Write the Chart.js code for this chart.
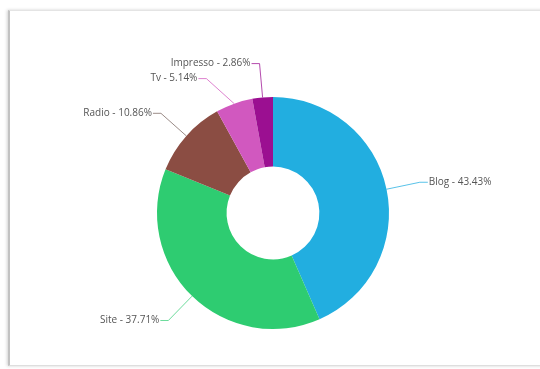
<!DOCTYPE html>
<html>
<head>
<meta charset="utf-8">
<script src="https://cdn.jsdelivr.net/npm/chart.js@4/dist/chart.umd.min.js"></script>
<style>
  html, body { margin: 0; padding: 0; background: #fff; width: 540px; height: 369px; overflow: hidden; }
  #frame { position: absolute; left: 8px; top: 10px; width: 540px; height: 356px;
    border-top: 1px solid #e4e4e4; border-left: 2px solid #c2c2c2; border-bottom: 1px solid #dedede;
    box-shadow: -1px 0 3px rgba(0,0,0,0.18); box-sizing: border-box; }
  #wrap { position: absolute; left: 0; top: 0; width: 540px; height: 369px; }
</style>
</head>
<body>
<div id="frame"></div>
<div id="wrap"><canvas id="c" width="540" height="369"></canvas></div>
<script>
const categories = ["Blog", "Site", "Radio", "Tv", "Impresso"];
const values = [76, 66, 19, 9, 5];
const percentLabels = ["43.43%", "37.71%", "10.86%", "5.14%", "2.86%"];
const colors = ["#22aee0", "#2ecc71", "#8b4d43", "#d158bf", "#9b0f91"];
const lineColors = ["rgba(34,174,224,0.75)", "rgba(46,204,113,0.7)", "rgba(120,100,95,0.75)", "rgba(209,88,191,0.75)", "rgba(155,15,145,0.75)"];

const leaderPlugin = {
  id: 'leaders',
  afterDatasetsDraw(chart) {
    const ctx = chart.ctx;
    const meta = chart.getDatasetMeta(0);
    const items = [];
    meta.data.forEach((arc, i) => {
      const p = arc.getProps(['x','y','startAngle','endAngle','outerRadius'], true);
      const mid = (p.startAngle + p.endAngle) / 2;
      const R = p.outerRadius;
      const er = R + 34;
      items.push({
        i, cx: p.x, cy: p.y, er,
        ax: p.x + Math.cos(mid) * R, ay: p.y + Math.sin(mid) * R,
        ex: p.x + Math.cos(mid) * er, ey: p.y + Math.sin(mid) * er,
        left: Math.cos(mid) < 0
      });
    });
    // de-overlap on left side
    const leftItems = items.filter(o => o.left).sort((a, b) => a.ey - b.ey);
    for (let k = 1; k < leftItems.length; k++) {
      const prev = leftItems[k-1], cur = leftItems[k];
      if (cur.ey - prev.ey < 15) {
        cur.ey = prev.ey + 15;
        const dy = cur.ey - cur.cy;
        cur.ex = cur.cx - Math.sqrt(Math.max(0, cur.er*cur.er - dy*dy));
      }
    }
    ctx.save();
    ctx.font = '10px "Open Sans", sans-serif';
    ctx.textBaseline = 'middle';
    items.forEach(o => {
      const hx = o.left ? o.ex - 8 : o.ex + 8;
      ctx.strokeStyle = lineColors[o.i];
      ctx.lineWidth = 1;
      ctx.beginPath();
      ctx.moveTo(o.ax, o.ay);
      ctx.lineTo(o.ex, o.ey);
      ctx.lineTo(hx, o.ey);
      ctx.stroke();
      ctx.fillStyle = '#555';
      ctx.textAlign = o.left ? 'right' : 'left';
      ctx.fillText(categories[o.i] + ' - ' + percentLabels[o.i], o.left ? hx - 1 : hx + 1, o.ey);
    });
    ctx.restore();
  }
};

new Chart(document.getElementById('c'), {
  type: 'doughnut',
  data: {
    labels: categories,
    datasets: [{ data: values, backgroundColor: colors, borderWidth: 0, hoverOffset: 0 }]
  },
  options: {
    responsive: false,
    animation: false,
    cutout: '40%',
    layout: { padding: { top: 97, bottom: 40, left: 157, right: 151 } },
    plugins: { legend: { display: false }, tooltip: { enabled: false } }
  },
  plugins: [leaderPlugin]
});
</script>
</body>
</html>
